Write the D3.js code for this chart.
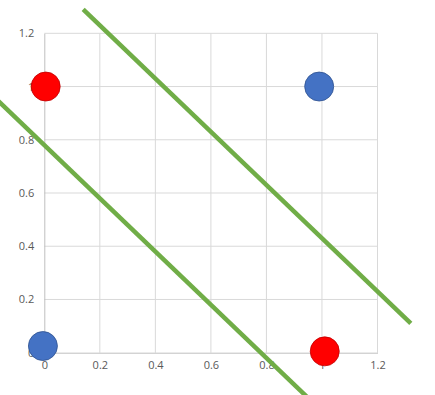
<!DOCTYPE html>
<html>
<head>
<meta charset="utf-8">
<script src="https://cdn.jsdelivr.net/npm/d3@7"></script>
<style>
    body { margin: 0; background: #fff; }
    svg { display: block; }
</style>
</head>
<body>
<div data-chart></div>
<script>
const xTicks = [0, 0.2, 0.4, 0.6, 0.8, 1, 1.2]
const yTicks = [0, 0.2, 0.4, 0.6, 0.8, 1, 1.2]

// points of the two classes
const redPoints = [[0.005, 1.0], [1.01, 0.005]]
const bluePoints = [[-0.005, 0.025], [0.99, 1.0]]

// separating lines, given by their end points
const upperLine = [[0.14, 1.29], [1.32, 0.11]]
const lowerLine = [[-0.2, 0.98], [1.0, -0.22]]

const width = 435
const height = 395

const x = d3.scaleLinear().domain([0, 1.2]).range([44.3, 377.5])
const y = d3.scaleLinear().domain([0, 1.2]).range([352.7, 33.3])

const svg = d3.select('[data-chart]').append('svg')
    .attr('width', width)
    .attr('height', height)

// gridlines
svg.append('g')
    .selectAll('line')
    .data(xTicks.slice(1))
    .enter().append('line')
    .attr('x1', d => x(d)).attr('x2', d => x(d))
    .attr('y1', y(0)).attr('y2', y(1.2))
    .attr('stroke', '#d9d9d9')
    .attr('stroke-width', 1)

svg.append('g')
    .selectAll('line')
    .data(yTicks.slice(1))
    .enter().append('line')
    .attr('x1', x(0)).attr('x2', x(1.2))
    .attr('y1', d => y(d)).attr('y2', d => y(d))
    .attr('stroke', '#d9d9d9')
    .attr('stroke-width', 1)

// axes
const xAxis = svg.append('g')
    .attr('transform', 'translate(0,' + y(0) + ')')
    .call(d3.axisBottom(x).tickValues(xTicks).tickSize(0).tickPadding(9).tickFormat(d3.format('')))
const yAxis = svg.append('g')
    .attr('transform', 'translate(' + x(0) + ',0)')
    .call(d3.axisLeft(y).tickValues(yTicks).tickSize(0).tickPadding(10).tickFormat(d3.format('')))

;[xAxis, yAxis].forEach(a => {
    a.select('.domain').attr('stroke', '#bfbfbf').attr('stroke-width', 1)
    a.selectAll('text')
        .attr('fill', '#595959')
        .style('font-family', 'Open Sans, sans-serif')
        .style('font-size', '11px')
})

// lines
const line = d3.line().x(d => x(d[0])).y(d => y(d[1]))
svg.append('g')
    .selectAll('path')
    .data([upperLine, lowerLine])
    .enter().append('path')
    .attr('d', line)
    .attr('fill', 'none')
    .attr('stroke', '#70ad47')
    .attr('stroke-width', 4.5)

// points
svg.append('g')
    .selectAll('circle')
    .data(redPoints)
    .enter().append('circle')
    .attr('cx', d => x(d[0]))
    .attr('cy', d => y(d[1]))
    .attr('r', 14.5)
    .attr('fill', '#ff0000')
    .attr('stroke', '#c00000')
    .attr('stroke-width', 0.8)

svg.append('g')
    .selectAll('circle')
    .data(bluePoints)
    .enter().append('circle')
    .attr('cx', d => x(d[0]))
    .attr('cy', d => y(d[1]))
    .attr('r', 14.5)
    .attr('fill', '#4472c4')
    .attr('stroke', '#2f528f')
    .attr('stroke-width', 0.8)
</script>
</body>
</html>
